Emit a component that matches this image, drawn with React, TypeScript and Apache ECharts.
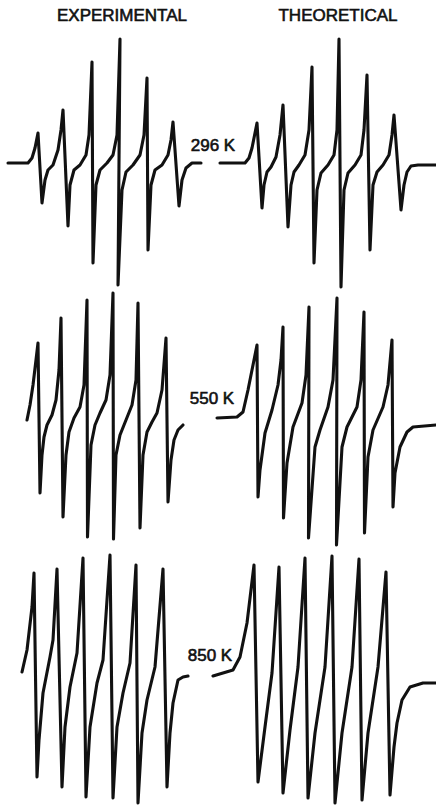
import React, { useEffect, useRef } from "react";
import * as echarts from "echarts";

// Column and row labels
const columnTitles = ["EXPERIMENTAL", "THEORETICAL"];
const temperatureLabels = ["296 K", "550 K", "850 K"];

// Field axis (arbitrary units across each panel) and derivative amplitude (arbitrary units)
const exp296Field = [8, 28, 32, 35, 38, 42, 45, 48, 53, 58, 61, 63, 68, 70, 74, 80, 86, 89, 92, 93, 96, 100, 107, 113, 117, 120, 118, 122, 126, 133, 140, 144, 147, 148, 151, 155, 162, 168, 171, 173, 179, 182, 186, 192, 201];
const exp296Amp = [0, 0, 5, 15, 30, -40, -17, -7, -2, 13, 33, 53, -63, -22, -7, -2, 8, 28, 101, -100, -22, -7, 0, 8, 28, 124, -122, -27, -9, -2, 8, 28, 85, -87, -22, -7, -2, 8, 23, 41, -43, -17, -5, 0, 0];

const theo296Field = [10, 35, 39, 42, 45, 47, 52, 54, 57, 61, 66, 70, 73, 78, 81, 84, 89, 95, 99, 102, 104, 107, 111, 118, 124, 127, 129, 131, 134, 138, 145, 151, 154, 157, 160, 163, 167, 173, 179, 182, 184, 191, 194, 197, 201, 208, 226];
const theo296Amp = [0, 0, 5, 15, 30, 40, -45, -22, -9, -4, 6, 28, 58, -64, -22, -9, -2, 8, 33, 96, -100, -27, -10, -2, 8, 33, 124, -124, -27, -10, -2, 8, 33, 88, -87, -22, -9, -2, 8, 28, 48, -47, -22, -9, -3, -2, -2];

const exp550Field = [27, 30, 33, 36, 38, 40, 42, 44, 47, 52, 56, 59, 61, 63, 66, 69, 74, 80, 84, 87, 87.5, 91, 95, 100, 106, 110, 113, 113.5, 116, 120, 126, 132, 136, 138, 140, 143, 147, 152, 157, 162, 166, 168, 171, 174, 178, 183];
const exp550Amp = [0, 15, 35, 60, 77, -73, -35, -17, -5, 5, 20, 50, 102, -97, -35, -12, 2, 13, 35, 120, -117, -25, -5, 7, 20, 45, 127, -119, -35, -15, 0, 15, 40, 117, -108, -35, -12, -2, 7, 30, 82, -82, -40, -20, -10, -5];

const theo550Field = [7, 27, 33, 38, 42, 47, 48, 50, 55, 62, 68, 71, 73, 73.5, 77, 83, 92, 96, 99, 98.5, 105, 110, 118, 123, 127, 126.5, 132, 137, 147, 151, 154, 154.5, 158, 163, 173, 178, 182, 183, 185, 190, 197, 203, 226];
const theo550Amp = [0, 1, 6, 28, 48, 73, -79, -52, -15, 8, 33, 58, 91, -100, -45, -9, 15, 43, 111, -120, -29, -12, 11, 38, 120, -127, -29, -9, 11, 38, 106, -115, -39, -12, 11, 33, 78, -89, -55, -29, -14, -9, -7];

const exp850Field = [22, 27, 32, 34, 37, 39, 43, 50, 53, 57, 62, 65, 70, 77, 83, 86, 90, 97, 103, 110, 113, 117, 123, 130, 136, 138, 142, 147, 155, 163, 167, 170, 173, 178, 183, 188];
const exp850Amp = [4, 26, 69, 103, -101, -64, -17, 19, 36, 107, -111, -51, -11, 23, 118, -121, -51, -7, 16, 121, -122, -51, -17, 13, 111, -127, -57, -24, 9, 107, -111, -57, -27, -4, -1, 0];

const theo850Field = [3, 13, 23, 30, 37, 44, 48, 55, 62, 69, 73, 80, 88, 95, 98, 105, 115, 122, 125, 132, 142, 149, 152, 158, 168, 176, 180, 184, 187, 192, 200, 213, 226];
const theo850Amp = [0, 3, 6, 19, 53, 111, -106, -51, 3, 109, -117, -54, 9, 118, -122, -57, 9, 120, -127, -57, 9, 117, -124, -57, 9, 104, -119, -71, -47, -24, -11, -7, -7];

const panelData = [
  { field: exp296Field, amp: exp296Amp },
  { field: theo296Field, amp: theo296Amp },
  { field: exp550Field, amp: exp550Amp },
  { field: theo550Field, amp: theo550Amp },
  { field: exp850Field, amp: exp850Amp },
  { field: theo850Field, amp: theo850Amp },
];

// Layout (pixels)
const W = 436;
const H = 806;
const colLeft = [0, 210];
const colWidth = 226;
const baselines = [
  [163, 163],
  [420, 418],
  [676, 676],
];
const halfHeight = 130;
const titlePos = [
  [122, 15],
  [338, 15],
];
const labelPos = [
  [213, 145],
  [212, 398],
  [210, 655],
];

const INK = "#111";
const FONT_FAMILY = "'Liberation Sans', Arial, sans-serif";

export default function App() {
  const ref = useRef<HTMLDivElement>(null);

  useEffect(() => {
    if (!ref.current) return;
    const chart = echarts.init(ref.current, null, { renderer: "svg" });

    const grids: any[] = [];
    const xAxes: any[] = [];
    const yAxes: any[] = [];
    const series: any[] = [];

    panelData.forEach((p, i) => {
      const row = Math.floor(i / 2);
      const col = i % 2;
      grids.push({
        left: colLeft[col],
        top: baselines[row][col] - halfHeight,
        width: colWidth,
        height: halfHeight * 2,
        containLabel: false,
      });
      xAxes.push({
        type: "value",
        gridIndex: i,
        min: 0,
        max: colWidth,
        show: false,
      });
      yAxes.push({
        type: "value",
        gridIndex: i,
        min: -halfHeight,
        max: halfHeight,
        show: false,
      });
      series.push({
        type: "line",
        xAxisIndex: i,
        yAxisIndex: i,
        data: p.field.map((f, k) => [f, p.amp[k]]),
        showSymbol: false,
        symbol: "none",
        smooth: false,
        clip: false,
        silent: true,
        lineStyle: { color: INK, width: 3.1, join: "round", cap: "round" },
      });
    });

    const textStyle = (t: string) => ({
      text: t,
      fill: INK,
      stroke: INK,
      lineWidth: 0.6,
      font: `17px ${FONT_FAMILY}`,
      textAlign: "center",
      textVerticalAlign: "middle",
      align: "center",
      verticalAlign: "middle",
    });

    const graphic: any[] = [];
    columnTitles.forEach((t, i) => {
      graphic.push({ type: "text", x: titlePos[i][0], y: titlePos[i][1], style: textStyle(t) });
    });
    temperatureLabels.forEach((t, i) => {
      graphic.push({ type: "text", x: labelPos[i][0], y: labelPos[i][1], style: textStyle(t) });
    });

    chart.setOption({
      animation: false,
      backgroundColor: "#ffffff",
      grid: grids,
      xAxis: xAxes,
      yAxis: yAxes,
      series,
      graphic,
    });

    return () => chart.dispose();
  }, []);

  return (
    <div
      ref={ref}
      style={{ position: "fixed", left: 0, top: 0, width: W, height: H, background: "#fff" }}
    />
  );
}
